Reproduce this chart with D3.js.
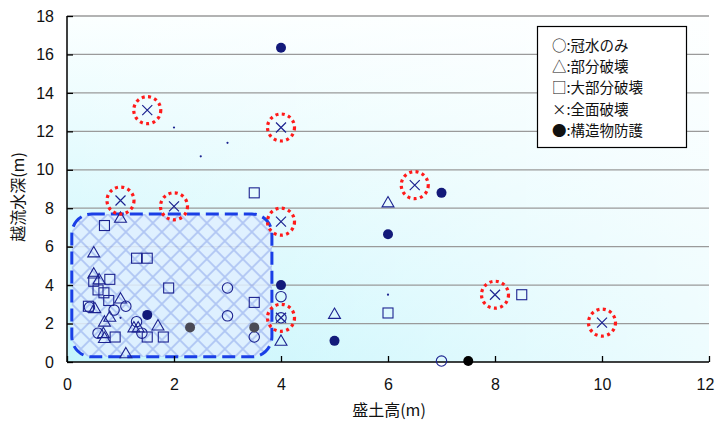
<!DOCTYPE html>
<html>
<head>
<meta charset="utf-8">
<script src="https://cdn.jsdelivr.net/npm/d3@7"></script>
<style>
  html, body { margin: 0; padding: 0; background: #fff; }
  svg { display: block; }
  text { font-family: "Liberation Sans", Arial, "Noto Sans CJK JP", sans-serif; }
  .jp { font-family: "Noto Sans CJK JP", sans-serif; }
</style>
</head>
<body>
<svg id="chart" width="715" height="421"></svg>
<script>
// Axis ticks
const xTicks = [0, 2, 4, 6, 8, 10, 12];
const yTicks = [0, 2, 4, 6, 8, 10, 12, 14, 16, 18];

// Damage categories: [盛土高(m), 越流水深(m)]
const floodOnly = [[0.42, 2.85], [0.58, 1.5], [0.88, 2.7], [1.1, 2.9], [1.3, 2.1], [1.4, 1.5],
  [3.0, 3.85], [3.0, 2.4], [3.5, 1.3], [4.0, 3.4], [4.0, 2.3], [7.0, 0.05]];
const partialDamage = [[1.0, 7.5], [0.5, 5.7], [0.5, 4.6], [0.6, 4.3], [1.0, 3.3], [0.52, 2.8],
  [0.8, 2.35], [0.7, 2.1], [0.68, 1.5], [0.7, 1.25], [1.25, 1.8], [1.33, 1.8], [1.7, 1.9],
  [1.1, 0.45], [4.0, 1.1], [5.0, 2.5], [6.0, 8.3]];
const majorDamage = [[0.7, 7.1], [1.3, 5.4], [1.5, 5.4], [0.5, 4.2], [0.8, 4.3], [0.58, 3.75],
  [0.69, 3.6], [0.78, 3.2], [1.9, 3.85], [0.4, 2.9], [0.9, 1.3], [1.5, 1.3], [1.8, 1.3],
  [3.5, 3.1], [3.5, 8.8], [6.0, 2.55], [8.5, 3.5]];
const totalDamage = [[1.5, 13.1], [4.0, 12.2], [1.0, 8.4], [2.0, 8.1], [4.0, 7.3], [6.5, 9.2],
  [8.0, 3.5], [10.0, 2.05], [4.0, 2.3]];
const protectedNavy = [[4.0, 16.35], [7.0, 8.8], [6.0, 6.65], [4.0, 4.0], [5.0, 1.1], [1.5, 2.45]];
const protectedGray = [[2.3, 1.8], [3.5, 1.8]];
const protectedBlack = [[7.5, 0.05]];
const minorPoints = [[2.0, 12.2], [2.5, 10.7], [3.0, 11.4], [6.0, 3.5], [1.0, 2.3]];

// Highlighted zone (x range, y range)
const zoneX = [0.09, 3.83];
const zoneY = [0.27, 7.7];

const legendLabels = ["○:冠水のみ", "△:部分破壊", "□:大部分破壊", "×:全面破壊", "●:構造物防護"];

const svg = d3.select("#chart");
const plot = { left: 67, right: 709, top: 16, bottom: 362 };
const x = d3.scaleLinear().domain([0, 12]).range([plot.left, plot.right]);
const y = d3.scaleLinear().domain([0, 18]).range([plot.bottom, plot.top]);

const defs = svg.append("defs");
// vertical wash: white at top, cyan at bottom
const bgV = defs.append("linearGradient").attr("id", "bgV")
  .attr("x1", 0).attr("y1", 0).attr("x2", 0).attr("y2", 1);
bgV.append("stop").attr("offset", "0%").attr("stop-color", "#fbffff");
bgV.append("stop").attr("offset", "100%").attr("stop-color", "#c4f5fc");
// horizontal fade toward white on the right
const bgH = defs.append("linearGradient").attr("id", "bgH")
  .attr("x1", 0).attr("y1", 0).attr("x2", 1).attr("y2", 0);
bgH.append("stop").attr("offset", "0%").attr("stop-color", "#ffffff").attr("stop-opacity", 0);
bgH.append("stop").attr("offset", "100%").attr("stop-color", "#ffffff").attr("stop-opacity", 0.7);

const hatch = defs.append("pattern").attr("id", "hatch")
  .attr("patternUnits", "userSpaceOnUse").attr("width", 18).attr("height", 18)
  .attr("x", x(zoneX[0])).attr("y", y(zoneY[1]));
hatch.append("rect").attr("width", 18).attr("height", 18).attr("fill", "#e0efff");
hatch.append("path").attr("d", "M0,0L18,18M18,0L0,18M-9,9L9,27M9,-9L27,9M-9,9L9,-9M9,27L27,9")
  .attr("stroke", "#a9bdf2").attr("stroke-width", 1.8).attr("fill", "none");

// plot background
["url(#bgV)", "url(#bgH)"].forEach(f => {
  svg.append("rect").attr("x", plot.left).attr("y", plot.top)
    .attr("width", plot.right - plot.left).attr("height", plot.bottom - plot.top).attr("fill", f);
});

// horizontal gridlines
svg.append("g").selectAll("line").data(yTicks.filter(d => d > 0)).join("line")
  .attr("x1", plot.left).attr("x2", plot.right).attr("y1", d => y(d)).attr("y2", d => y(d))
  .attr("stroke", "#9a9a9a").attr("stroke-width", 1.3);

// highlighted zone
const zx0 = x(zoneX[0]), zx1 = x(zoneX[1]), zy0 = y(zoneY[1]), zy1 = y(zoneY[0]);
svg.append("rect").attr("x", zx0).attr("y", zy0)
  .attr("width", zx1 - zx0).attr("height", zy1 - zy0)
  .attr("rx", 20).attr("ry", 20)
  .attr("fill", "url(#hatch)").attr("fill-opacity", 0.85)
  .attr("stroke", "#1a3fe6").attr("stroke-width", 3)
  .attr("stroke-dasharray", "13,6");

// axes
const xAxis = d3.axisBottom(x).tickValues(xTicks).tickSize(-6).tickPadding(17).tickFormat(d3.format("d"));
const yAxis = d3.axisLeft(y).tickValues(yTicks).tickSize(-6).tickPadding(13).tickFormat(d3.format("d"));
const gx = svg.append("g").attr("transform", `translate(0,${plot.bottom})`).call(xAxis);
const gy = svg.append("g").attr("transform", `translate(${plot.left},0)`).call(yAxis);
[gx, gy].forEach(g => {
  g.select(".domain").attr("stroke", "#000").attr("stroke-width", 1.5);
  g.selectAll(".tick line").attr("stroke", "#000").attr("stroke-width", 1.3);
  g.selectAll(".tick text").attr("font-size", 16).attr("fill", "#111")
    .style("font-family", "'Liberation Sans', Arial, sans-serif");
});
gx.select(".domain").attr("d", `M${plot.left},0H${plot.right}`);
gy.select(".domain").attr("d", `M0,${plot.bottom}V${plot.top}`);
// keep the last x label inside the page
gx.selectAll(".tick text").filter(d => d === 12).attr("dx", -4);

// axis titles
svg.append("text").attr("class", "jp").attr("x", 389).attr("y", 416)
  .attr("text-anchor", "middle").attr("font-size", 16).attr("fill", "#111").text("盛土高(m)");
svg.append("text").attr("class", "jp")
  .attr("transform", `translate(24,${(plot.top + plot.bottom) / 2 + 8}) rotate(-90)`)
  .attr("text-anchor", "middle").attr("font-size", 16).attr("fill", "#111").text("越流水深(m)");

const navy = "#1c2390";
const marks = svg.append("g");

// 冠水のみ
marks.selectAll(".c").data(floodOnly).join("circle")
  .attr("cx", d => x(d[0])).attr("cy", d => y(d[1])).attr("r", 5.2)
  .attr("fill", "none").attr("stroke", navy).attr("stroke-width", 1.1);

// 部分破壊
const tri = d3.symbol().type(d3.symbolTriangle).size(62);
marks.selectAll(".t").data(partialDamage).join("path")
  .attr("transform", d => `translate(${x(d[0])},${y(d[1]) + 1})`)
  .attr("d", tri).attr("fill", "none").attr("stroke", navy).attr("stroke-width", 1.1);

// 大部分破壊
marks.selectAll(".s").data(majorDamage).join("rect")
  .attr("x", d => x(d[0]) - 5).attr("y", d => y(d[1]) - 5)
  .attr("width", 10).attr("height", 10)
  .attr("fill", "none").attr("stroke", navy).attr("stroke-width", 1.1);

// 構造物防護
marks.selectAll(".fn").data(protectedNavy).join("circle")
  .attr("cx", d => x(d[0])).attr("cy", d => y(d[1])).attr("r", 5).attr("fill", "#131a7a");
marks.selectAll(".fg").data(protectedGray).join("circle")
  .attr("cx", d => x(d[0])).attr("cy", d => y(d[1])).attr("r", 5).attr("fill", "#4a4a55");
marks.selectAll(".fb").data(protectedBlack).join("circle")
  .attr("cx", d => x(d[0])).attr("cy", d => y(d[1])).attr("r", 5).attr("fill", "#000");

// small dots
marks.selectAll(".d").data(minorPoints).join("circle")
  .attr("cx", d => x(d[0])).attr("cy", d => y(d[1])).attr("r", 1.1).attr("fill", navy);

// 全面破壊 with dotted red rings
marks.selectAll(".ring").data(totalDamage).join("circle")
  .attr("cx", d => x(d[0])).attr("cy", d => y(d[1])).attr("r", 13.5)
  .attr("fill", "none").attr("stroke", "#ff1a1a").attr("stroke-width", 3.2)
  .attr("stroke-dasharray", "3,3.4");
marks.selectAll(".x").data(totalDamage).join("path")
  .attr("transform", d => `translate(${x(d[0])},${y(d[1])})`)
  .attr("d", "M-5,-5L5,5M5,-5L-5,5")
  .attr("stroke", navy).attr("stroke-width", 1.2).attr("fill", "none");

// legend
const lg = svg.append("g");
lg.append("rect").attr("x", 537.5).attr("y", 26.5).attr("width", 149).attr("height", 121)
  .attr("fill", "#fff").attr("stroke", "#000").attr("stroke-width", 1.2);
lg.selectAll("text").data(legendLabels).join("text")
  .attr("class", "jp").attr("x", 552).attr("y", (d, i) => 51 + i * 21.2)
  .attr("font-size", 14.5).attr("fill", "#111").text(d => d);
</script>
</body>
</html>
